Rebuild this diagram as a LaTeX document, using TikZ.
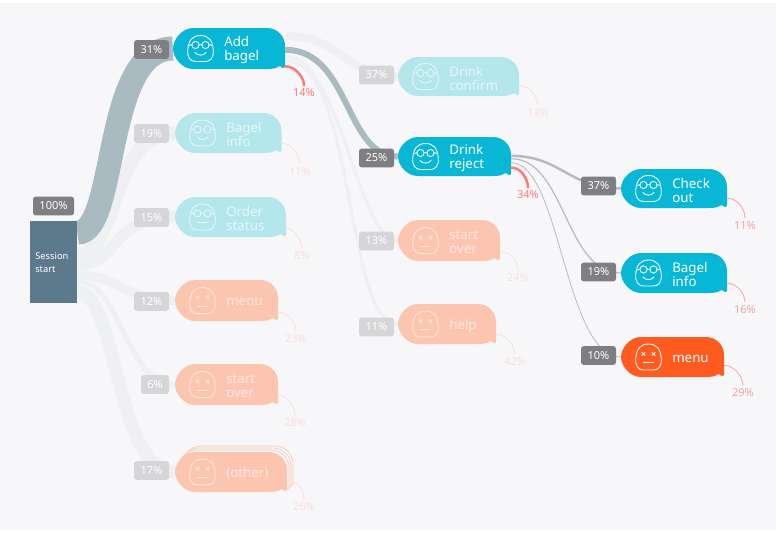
\documentclass[tikz,border=0pt]{standalone}
\usepackage{fontspec}
\setmainfont{Noto Sans}
\usetikzlibrary{backgrounds}
\definecolor{bgc}{HTML}{F7F7F9}
\definecolor{cyanS}{HTML}{08B6D5}
\definecolor{cyanF}{HTML}{B3E7EB}
\definecolor{orS}{HTML}{FF5A1F}
\definecolor{orF}{HTML}{FBC5B0}
\definecolor{txF1}{HTML}{E6F7F9}
\definecolor{txF2}{HTML}{FDE8E0}
\definecolor{bandS}{HTML}{A9BAC0}
\definecolor{bandF}{HTML}{EEF0F2}
\definecolor{badgeS}{HTML}{7F7F83}
\definecolor{badgeF}{HTML}{D6D6D9}
\definecolor{redS}{HTML}{FB7B7B}
\definecolor{redM}{HTML}{F5A3A3}
\definecolor{redF}{HTML}{FADEDE}
\definecolor{thinL}{HTML}{B5BCC0}
\definecolor{srcC}{HTML}{5C7A8C}
\tikzset{
  bw/.style={line width=#1*0.75pt},
  band/.style={draw=bandF,line cap=butt},
  badge/.style={rectangle,rounded corners=2pt,inner sep=0pt,minimum height=14pt,text=white,font=\fontsize{8.25}{10}\selectfont},
  badS/.style={badge,fill=badgeS},
  badF/.style={badge,fill=badgeF,text=white},
  pct/.style={inner sep=1pt,font=\fontsize{8.25}{10}\selectfont},
  btext/.style={anchor=west,inner sep=0pt,align=left,font=\fontsize{10}{10.6}\selectfont},
  exit/.style={line width=0.6pt,shorten >=1.5pt},
  exitS/.style={draw=redS,line width=1.9pt,line cap=round,shorten >=1.5pt},
}
\def\bub#1#2#3#4#5{(#1+20,#2) -- (#3-18,#2) .. controls (#3-8,#2) and (#3,#2+8) .. (#3,#2+18) -- (#3,#4-2.5) .. controls (#3,#4-0.5) and (#3-2,#4-0.5) .. (#3-3,#4-1.5) .. controls (#3-4,#4-3) and (#3-5,#4-3) .. (#3-6.5,#4-2.5) .. controls (#3-9,#4-0.5) and (#3-13,#4) .. (#3-18,#4) -- (#1+20,#4) .. controls (#1+9,#4) and (#1,#5+9) .. (#1,#5) .. controls (#1,#5-9) and (#1+9,#2) .. (#1+20,#2) -- cycle}
\newcommand\facehead{%
  \draw (0,-13) .. controls (8,-13) and (12,-8) .. (12.7,1) .. controls (13.6,9) and (10,13) .. (5,13) -- (-5,13) .. controls (-10,13) and (-13.6,9) .. (-12.7,1) .. controls (-12,-8) and (-8,-13) .. (0,-13) -- cycle;}
\newcommand\faceglasses{%
  \draw (-5,-3.5) circle[radius=3.6] (5,-3.5) circle[radius=3.6] (-1.4,-3.7) -- (1.4,-3.7) (-8.6,-3.7) -- (-12.2,-3) (8.6,-3.7) -- (12.2,-3);}
\newcommand\facehappy{\facehead\faceglasses\draw[line cap=round] (-5.5,4) .. controls (-3,7.5) and (3,7.5) .. (5.5,4);}
\newcommand\faceflat{\facehead\faceglasses\draw[line cap=round] (-5,5.5) -- (5,5.5);}
\newcommand\facedead{\facehead\draw (-6.7,-4.7) -- (-3.3,-1.3) (-6.7,-1.3) -- (-3.3,-4.7) (3.3,-4.7) -- (6.7,-1.3) (3.3,-1.3) -- (6.7,-4.7);\draw[line cap=round] (-5,5.5) -- (5,5.5);}
% name x0 y0 x1 y1 fill textcolour face text
\newcommand\bubble[9]{%
  \pgfmathsetmacro\ym{(#3+#5)/2}%
  \pgfmathsetmacro\xm{(#2+#4)/2}%
  \pgfmathsetmacro\bwid{(#4-#2)*0.75}%
  \pgfmathsetmacro\bhei{(#5-#3)*0.75}%
  \fill[#6] \bub{#2}{#3}{#4}{#5}{\ym};
  \node[inner sep=0pt,minimum width=\bwid pt,minimum height=\bhei pt] (#1) at (\xm,\ym) {};
  \begin{scope}[shift={(#2+27.5,\ym)},draw=#7,line width=0.65pt]#8\end{scope}
  \node[btext,text=#7] (#1-t) at (#2+51,\ym+1.8) {#9};
}
\begin{document}
\begin{tikzpicture}[x=0.75pt,y=-0.75pt]
\useasboundingbox (0,0) rectangle (776,533);
\begin{pgfonlayer}{background}
\fill[white] (0,0) rectangle (776,533);
\fill[bgc] (0,3) rectangle (776,530);
\end{pgfonlayer}

% source
\node[badS,minimum width=30.75pt] (b100) at (53.5,206) {100\%};
\node[rectangle,fill=srcC,inner sep=0pt,minimum width=35.6pt,minimum height=61.5pt] (s) at (53.25,262) {};
\node[anchor=west,inner sep=0pt,align=left,text=white,font=\fontsize{7}{9.9}\selectfont] (s-t) at (35,263) {Session\\start};

% column 1
\node[badS,minimum width=26.25pt] (p1) at (151.5,49.5) {31\%};
\node[badF,minimum width=26.25pt] (p2) at (151.5,133.5) {19\%};
\node[badF,minimum width=26.25pt] (p3) at (151.5,217.5) {15\%};
\node[badF,minimum width=26.25pt] (p4) at (151.5,301.5) {12\%};
\node[badF,minimum width=21pt] (p5) at (155,384.5) {6\%};
\node[badF,minimum width=26.25pt] (p6) at (151.5,470.5) {17\%};

\bubble{ab}{173}{28}{285}{69}{cyanS}{white}{\facehappy}{Add\\bagel}
\bubble{bi}{175}{113}{281.5}{153}{cyanF}{txF1}{\facehappy}{Bagel\\info}
\bubble{os}{175}{197}{286}{237}{cyanF}{txF1}{\faceflat}{Order\\status}
\bubble{me}{175}{280}{278}{321}{orF}{txF2}{\facedead}{menu}
\bubble{so}{175}{364}{278}{405}{orF}{txF2}{\facedead}{start\\over}
\begin{scope}[draw=orF,fill=bgc,line width=0.45pt]
\filldraw \bub{181}{446}{293}{486}{466};
\filldraw \bub{179}{448}{291}{488}{468};
\filldraw \bub{177}{450}{289}{490}{470};
\end{scope}
\bubble{ot}{175}{452}{287}{492}{orF}{txF2}{\facedead}{(other)}

% column 2
\node[badF,minimum width=26.25pt] (p7) at (376.5,75) {37\%};
\node[badS,minimum width=26.25pt] (p8) at (376.5,158) {25\%};
\node[badF,minimum width=26.25pt] (p9) at (376.5,241) {13\%};
\node[badF,minimum width=26.25pt] (p10) at (376.5,327) {11\%};

\bubble{dc}{398}{57}{519}{96}{cyanF}{txF1}{\facehappy}{Drink\\confirm}
\bubble{dr}{398}{137}{511}{176}{cyanS}{white}{\facehappy}{Drink\\reject}
\bubble{s2}{398}{220}{500}{261}{orF}{txF2}{\facedead}{start\\over}
\bubble{he}{398}{304}{496}{344}{orF}{txF2}{\facedead}{help}

% column 3
\node[badS,minimum width=26.25pt] (p11) at (598.5,186) {37\%};
\node[badS,minimum width=26.25pt] (p12) at (598.5,272) {19\%};
\node[badS,minimum width=26.25pt] (p13) at (598.5,355.5) {10\%};

\bubble{co}{621}{169}{727}{208}{cyanS}{white}{\facehappy}{Check\\out}
\bubble{b3}{621}{253}{727}{293}{cyanS}{white}{\facehappy}{Bagel\\info}
\bubble{m3}{621}{337}{724}{377}{orS}{white}{\facedead}{menu}

% exit labels
\node[pct,text=redS] (e1) at (304,93) {14\%};
\node[pct,text=redF] (e2) at (300,172) {11\%};
\node[pct,text=redF] (e3) at (302,256) {8\%};
\node[pct,text=redF] (e4) at (296,339) {23\%};
\node[pct,text=redF] (e5) at (295,423) {28\%};
\node[pct,text=redF] (e6) at (304,507) {26\%};
\node[pct,text=redF] (e7) at (538,113) {13\%};
\node[pct,text=redS] (e8) at (528,195) {34\%};
\node[pct,text=redF] (e9) at (518,278) {24\%};
\node[pct,text=redF] (e10) at (515,362) {42\%};
\node[pct,text=redM] (e11) at (745,226) {11\%};
\node[pct,text=redM] (e12) at (745,310) {16\%};
\node[pct,text=redM] (e13) at (743,393) {29\%};

\draw[exitS] ([yshift=2.2pt]ab.south east) .. controls +(10,0) and +(0,-10) .. (e1.north);
\draw[exit,draw=redF] ([yshift=7.5pt]bi.south east) .. controls +(10,0) and +(0,-10) .. (e2.north);
\draw[exit,draw=redF] ([yshift=6.75pt]os.south east) .. controls +(8,0) and +(0,-8) .. (e3.north);
\draw[exit,draw=redF] ([yshift=6.75pt]me.south east) .. controls +(10,0) and +(0,-10) .. (e4.north);
\draw[exit,draw=redF] ([yshift=7.5pt]so.south east) .. controls +(10,0) and +(0,-10) .. (e5.north);
\draw[exit,draw=redF] ([xshift=4pt,yshift=7.5pt]ot.south east) .. controls +(7,0) and +(0,-8) .. (e6.north);
\draw[exit,draw=redF] ([yshift=8pt]dc.south east) .. controls +(10,0) and +(0,-10) .. (e7.north);
\draw[exitS] ([yshift=6.5pt]dr.south east) .. controls +(10,0) and +(0,-10) .. (e8.north);
\draw[exit,draw=redF] ([yshift=7.5pt]s2.south east) .. controls +(10,0) and +(0,-10) .. (e9.north);
\draw[exit,draw=redF] ([yshift=7.5pt]he.south east) .. controls +(10,0) and +(0,-10) .. (e10.north);
\draw[exit,draw=redM] ([yshift=7.5pt]co.south east) .. controls +(10,0) and +(0,-12) .. (e11.north);
\draw[exit,draw=redM] ([yshift=7.5pt]b3.south east) .. controls +(10,0) and +(0,-10) .. (e12.north);
\draw[exit,draw=redM] ([yshift=9pt]m3.south east) .. controls +(10,0) and +(0,-10) .. (e13.north);

% flows
\begin{pgfonlayer}{background}
\draw[band,bw=14] ([yshift=-25.5pt]s.north east) .. controls +(42,0) and +(-65,0) .. (bi.west);
\draw[band,bw=11] ([yshift=-33pt]s.north east) .. controls +(42,0) and +(-65,0) .. (os.west);
\draw[band,bw=9] ([yshift=-40.5pt]s.north east) .. controls +(40,0) and +(-50,0) .. (me.west);
\draw[band,bw=5] ([yshift=-45.75pt]s.north east) .. controls +(45,0) and +(-50,0) .. (so.west);
\draw[band,bw=13] ([yshift=-53.25pt]s.north east) .. controls +(41,0) and +(-60,0) .. (ot.west);
\draw[band,bw=24,draw=bandS] ([yshift=-9pt]s.north east) .. controls +(41,0) and +(-70,0) .. (ab.west);
\draw[band,bw=8] ([yshift=9.5pt]ab.east) .. controls +(55,0) and +(-50,0) .. (dc.west);
\draw[band,bw=3] ([yshift=-6pt]ab.east) .. controls +(55,0) and +(-40,0) .. (s2.west);
\draw[band,bw=3] ([yshift=-9pt]ab.east) .. controls +(70,0) and +(-53,0) .. (he.west);
\draw[band,bw=6,draw=bandS] ([yshift=-1pt]ab.east) .. controls +(65,0) and +(-53,0) .. (dr.west);
\draw[band,bw=2.5,draw=thinL] ([yshift=0.5pt]dr.east) .. controls +(49,0) and +(-51,0) .. (co.west);
\draw[band,bw=1.2,draw=thinL] ([yshift=-1.7pt]dr.east) .. controls +(54,0) and +(-56,0) .. (b3.west);
\draw[band,bw=0.8,draw=thinL] ([yshift=-4.7pt]dr.east) .. controls +(49,0) and +(-56,0) .. (m3.west);
\end{pgfonlayer}
\end{tikzpicture}
\end{document}
